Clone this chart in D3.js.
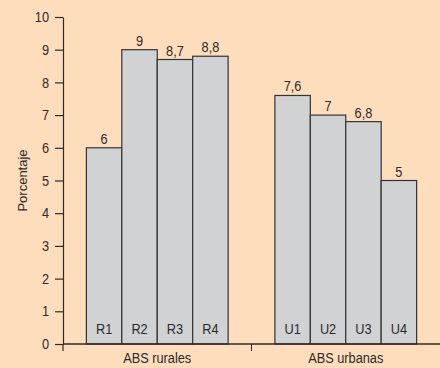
<!DOCTYPE html>
<html>
<head>
<meta charset="utf-8">
<script src="https://cdn.jsdelivr.net/npm/d3@7/dist/d3.min.js"></script>
<style>
  html, body { margin: 0; padding: 0; background: #FEDDBD; }
  svg { display: block; }
  text { font-family: "Liberation Sans", Arial, Helvetica, sans-serif; fill: #2b2b2b; }
</style>
</head>
<body>
<svg id="chart" width="440" height="368"></svg>
<script>
const groups = ["ABS rurales", "ABS urbanas"];
const ruralCats = ["R1", "R2", "R3", "R4"];
const ruralValues = [6, 9, 8.7, 8.8];
const urbanCats = ["U1", "U2", "U3", "U4"];
const urbanValues = [7.6, 7, 6.8, 5];
const yTicks = [0, 1, 2, 3, 4, 5, 6, 7, 8, 9, 10];
const yLabel = "Porcentaje";

const series = [
  { group: groups[0], cats: ruralCats, values: ruralValues },
  { group: groups[1], cats: urbanCats, values: urbanValues }
];

const svg = d3.select("#chart");
const W = 440, H = 368;
svg.append("rect").attr("width", W).attr("height", H).attr("fill", "#FEDDBD");

const x0 = 63, x1 = 440, yTop = 17, yBot = 344;
const y = d3.scaleLinear().domain([0, 10]).range([yBot, yTop]);
const gx = d3.scaleBand().domain(groups).range([x0, x1]).padding(0);
const inner = d3.scaleBand().domain(d3.range(4)).range([0, gx.bandwidth()])
  .paddingInner(0).paddingOuter(0.66);

const fmt = v => String(v).replace(".", ",");
const ink = "#2b2b2b";
const fs = 14.5;
const sx = 0.88; // narrow-font emulation
const pos = (px, py) => `translate(${px},${py}) scale(${sx},1)`;

// bars
series.forEach(s => {
  const g = svg.append("g").attr("transform", `translate(${gx(s.group)},0)`);
  const data = s.values.map((v, i) => ({ v, c: s.cats[i], i }));
  g.selectAll("rect.bar").data(data).join("rect")
    .attr("class", "bar")
    .attr("x", d => inner(d.i))
    .attr("y", d => y(d.v))
    .attr("width", inner.bandwidth())
    .attr("height", d => y(0) - y(d.v))
    .attr("fill", "#D1D2D4")
    .attr("stroke", "#333")
    .attr("stroke-width", 1.2);
  g.selectAll("text.val").data(data).join("text")
    .attr("class", "val")
    .attr("transform", d => pos(inner(d.i) + inner.bandwidth() / 2, y(d.v) - 4))
    .attr("text-anchor", "middle")
    .attr("font-size", fs)
    .text(d => fmt(d.v));
  g.selectAll("text.cat").data(data).join("text")
    .attr("class", "cat")
    .attr("transform", d => pos(inner(d.i) + inner.bandwidth() / 2, y(0) - 10))
    .attr("text-anchor", "middle")
    .attr("font-size", fs)
    .text(d => d.c);
});

// y axis
const yAxis = d3.axisLeft(y).tickValues(yTicks).tickSize(8).tickPadding(5).tickSizeOuter(0);
const ya = svg.append("g").attr("transform", `translate(${x0},0)`).call(yAxis);
ya.select(".domain").attr("stroke", ink).attr("stroke-width", 1.2);
ya.selectAll(".tick line").attr("stroke", ink).attr("stroke-width", 1.2);
ya.selectAll(".tick text").attr("font-size", fs).attr("fill", ink)
  .attr("x", -14 / sx).attr("transform", `scale(${sx},1)`)
  .style("font-family", '"Liberation Sans", Arial, sans-serif');
// extend axis line below baseline
svg.append("line").attr("x1", x0).attr("x2", x0).attr("y1", yBot).attr("y2", yBot + 7)
  .attr("stroke", ink).attr("stroke-width", 1.2);

// x baseline and group separators
svg.append("line").attr("x1", x0).attr("x2", x1).attr("y1", yBot).attr("y2", yBot)
  .attr("stroke", ink).attr("stroke-width", 1.4);
svg.append("line").attr("x1", gx(groups[1])).attr("x2", gx(groups[1]))
  .attr("y1", yBot).attr("y2", yBot + 7).attr("stroke", ink).attr("stroke-width", 1);

svg.selectAll("text.grp").data(groups).join("text")
  .attr("class", "grp")
  .attr("transform", d => pos(gx(d) + gx.bandwidth() / 2, yBot + 19))
  .attr("text-anchor", "middle")
  .attr("font-size", fs)
  .text(d => d);

svg.append("text")
  .attr("transform", `translate(27,${(yTop + yBot) / 2}) rotate(-90)`)
  .attr("text-anchor", "middle")
  .attr("font-size", 13)
  .text(yLabel);
</script>
</body>
</html>
